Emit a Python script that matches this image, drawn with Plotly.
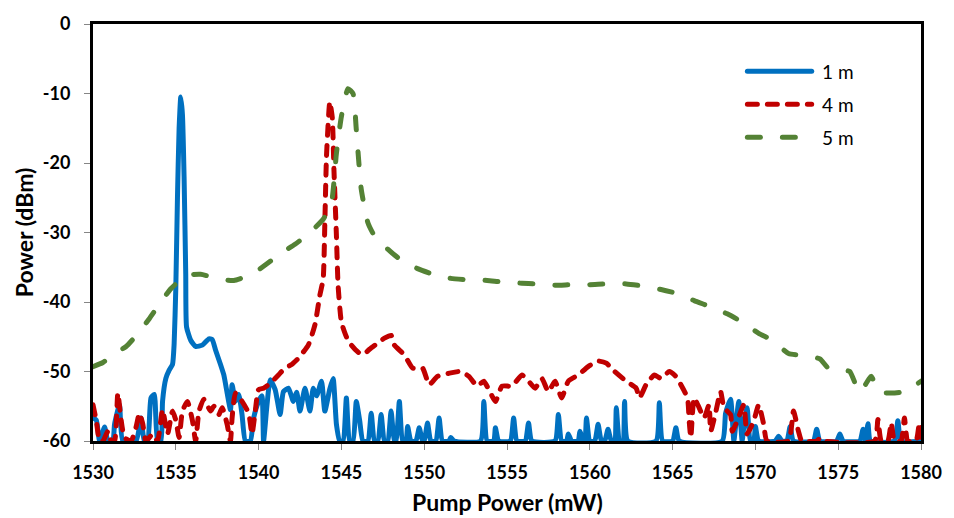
import plotly.graph_objects as go

# ---------------- data ----------------
wl_1m = [1530.0, 1530.2, 1530.4, 1530.7, 1530.9, 1531.2, 1531.3, 1531.6, 1531.8, 1532.6,
         1532.9, 1533.1, 1533.3, 1533.5, 1533.7, 1533.9, 1534.1, 1534.2, 1534.4, 1534.6,
         1534.8, 1534.9, 1535.0, 1535.1, 1535.2, 1535.3, 1535.4, 1535.5, 1535.6, 1535.65,
         1535.9, 1536.2, 1536.6, 1537.0, 1537.2, 1537.4, 1537.7, 1537.9, 1538.1, 1538.3,
         1538.4, 1538.6, 1538.8, 1539.0, 1539.2, 1539.5, 1539.7, 1540.0, 1540.2, 1540.3,
         1540.5, 1540.7, 1541.0, 1541.3, 1541.5, 1541.8, 1542.1, 1542.3, 1542.5, 1542.8,
         1543.1, 1543.3, 1543.5, 1543.8, 1544.0, 1544.3, 1544.5, 1544.7, 1544.9, 1545.1,
         1545.3, 1545.5, 1545.7, 1545.9, 1546.1, 1546.3, 1546.6, 1546.8, 1547.0, 1547.2,
         1547.4, 1547.6, 1547.8, 1548.0, 1548.2, 1548.3, 1548.5, 1548.7, 1548.9, 1549.0,
         1549.2, 1549.5, 1549.7, 1549.9, 1550.0, 1550.2, 1550.4, 1550.7, 1550.9, 1551.1,
         1551.5, 1551.6, 1551.8, 1553.4, 1553.6, 1553.8, 1554.2, 1554.3, 1554.5, 1555.2,
         1555.4, 1555.6, 1556.1, 1556.3, 1556.5, 1557.9, 1558.1, 1558.3, 1558.6, 1558.7,
         1558.9, 1559.3, 1559.4, 1559.6, 1559.7, 1559.8, 1560.0, 1560.3, 1560.5, 1560.7,
         1560.9, 1561.1, 1561.3, 1561.5, 1561.6, 1561.8, 1562.0, 1562.1, 1562.3, 1564.0,
         1564.2, 1564.4, 1565.0, 1565.2, 1565.4, 1568.0, 1568.2, 1568.5, 1568.7, 1568.8,
         1569.0, 1569.2, 1569.3, 1569.5, 1569.7, 1569.9, 1570.0, 1570.2, 1571.2, 1571.4,
         1571.6, 1571.9, 1572.1, 1572.3, 1573.5, 1573.7, 1573.9, 1574.9, 1575.1, 1575.3,
         1576.3, 1576.5, 1576.65, 1576.8, 1576.95, 1578.4, 1578.6, 1578.8, 1580.0]
pw_1m = [-56.7, -57.0, -60.0, -58.0, -60.0, -60.0, -57.6, -54.8, -60.0, -60.0,
         -56.7, -60.0, -60.0, -53.8, -53.3, -60.0, -60.0, -54.3, -51.0, -49.8,
         -49.0, -46.0, -38.0, -25.0, -15.0, -10.5, -13.0, -22.0, -36.0, -43.6,
         -45.5, -46.4, -46.2, -45.3, -45.4, -46.9, -49.0, -50.5, -53.1, -55.5,
         -51.9, -54.3, -53.3, -56.2, -60.0, -60.0, -56.7, -54.3, -53.5, -60.0,
         -55.0, -51.2, -52.6, -56.2, -52.9, -52.4, -54.3, -53.0, -55.7, -52.4,
         -55.7, -52.4, -53.5, -51.4, -55.7, -52.5, -51.0, -57.6, -60.0, -60.0,
         -53.8, -60.0, -60.0, -54.3, -57.0, -60.0, -60.0, -56.0, -60.0, -60.0,
         -56.2, -60.0, -60.0, -55.7, -60.0, -60.0, -54.3, -60.0, -60.0, -57.9,
         -60.0, -60.0, -58.1, -60.0, -60.0, -57.4, -60.0, -60.0, -56.7, -60.0,
         -60.0, -59.5, -60.0, -60.0, -54.3, -60.0, -60.0, -58.1, -60.0, -60.0,
         -56.7, -60.0, -60.0, -57.4, -60.0, -60.0, -56.2, -60.0, -60.0, -59.0,
         -60.0, -60.0, -58.6, -60.0, -60.0, -56.7, -60.0, -60.0, -57.6, -60.0,
         -60.0, -58.3, -60.0, -60.0, -55.2, -60.0, -60.0, -54.3, -60.0, -60.0,
         -54.5, -60.0, -60.0, -58.1, -60.0, -60.0, -56.0, -54.0, -60.0, -58.0,
         -54.3, -60.0, -58.0, -55.2, -60.0, -60.0, -57.9, -60.0, -60.0, -59.3,
         -60.0, -60.0, -57.9, -60.0, -60.0, -58.3, -60.0, -60.0, -59.0, -60.0,
         -60.0, -58.3, -60.0, -57.5, -60.0, -60.0, -57.1, -60.0, -60.0]

wl_4m = [1530.0, 1530.2, 1530.4, 1530.6, 1530.9, 1531.1, 1531.3, 1531.5, 1531.7, 1531.9,
         1532.3, 1532.6, 1532.8, 1533.0, 1533.2, 1533.6, 1533.9, 1534.2, 1534.5, 1534.8,
         1535.0, 1535.2, 1535.4, 1535.7, 1536.0, 1536.2, 1536.4, 1536.7, 1537.1, 1537.3,
         1537.6, 1537.8, 1538.1, 1538.3, 1538.4, 1538.6, 1539.0, 1539.4, 1539.6, 1539.8,
         1540.0, 1540.3, 1540.7, 1541.2, 1541.6, 1542.0, 1542.4, 1543.0, 1543.4, 1543.7,
         1543.9, 1544.0, 1544.1, 1544.3, 1544.45, 1544.55, 1544.7, 1544.8, 1545.0, 1545.3,
         1545.6, 1546.0, 1546.3, 1546.7, 1547.2, 1547.6, 1548.0, 1548.2, 1548.8, 1549.3,
         1549.9, 1550.3, 1550.8, 1551.6, 1552.2, 1552.7, 1553.2, 1553.6, 1553.9, 1554.3,
         1554.7, 1555.3, 1555.9, 1556.3, 1556.7, 1557.1, 1557.5, 1557.9, 1558.3, 1558.7,
         1559.3, 1559.9, 1560.5, 1561.0, 1561.5, 1562.2, 1562.8, 1563.0, 1563.4, 1563.9,
         1564.3, 1564.8, 1565.2, 1565.5, 1565.9, 1566.0, 1566.1, 1566.3, 1566.6, 1566.9,
         1567.2, 1567.3, 1567.6, 1567.9, 1568.1, 1568.5, 1568.6, 1568.9, 1569.3, 1569.5,
         1569.9, 1570.2, 1570.5, 1570.7, 1572.0, 1572.3, 1572.6, 1572.8, 1573.7, 1573.9,
         1574.1, 1577.2, 1577.4, 1577.6, 1578.0, 1578.2, 1578.4, 1578.8, 1579.0, 1579.2,
         1579.7, 1579.9, 1580.0]
pw_4m = [-54.8, -57.1, -60.0, -60.0, -58.6, -60.0, -60.0, -53.1, -57.0, -59.5,
         -60.0, -58.0, -56.0, -57.5, -60.0, -59.0, -60.0, -55.5, -59.0, -55.7,
         -57.0, -59.5, -55.7, -54.3, -57.0, -60.0, -55.7, -54.0, -55.7, -55.0,
         -56.2, -55.2, -57.6, -60.0, -56.7, -53.1, -54.3, -56.0, -59.0, -55.7,
         -52.6, -52.4, -51.7, -50.5, -49.5, -49.0, -48.1, -46.2, -43.3, -39.0,
         -36.7, -28.6, -19.0, -11.2, -13.5, -21.0, -30.5, -37.6, -42.9, -45.0,
         -46.2, -47.2, -47.6, -46.8, -45.9, -45.2, -44.8, -46.2, -47.6, -49.5,
         -49.5, -51.9, -50.7, -50.2, -50.0, -50.7, -52.1, -51.4, -52.6, -54.3,
         -52.1, -52.1, -50.5, -51.4, -52.4, -51.0, -52.9, -51.4, -53.8, -51.4,
         -50.5, -49.3, -48.5, -48.8, -50.0, -51.4, -52.4, -53.8, -51.9, -50.5,
         -51.0, -50.0, -50.7, -51.9, -53.8, -57.1, -59.5, -53.8, -55.2, -56.7,
         -54.8, -58.6, -55.9, -52.9, -55.2, -56.2, -58.6, -57.1, -54.8, -59.0,
         -57.1, -54.8, -57.6, -60.0, -60.0, -55.7, -58.6, -60.0, -60.0, -59.6,
         -60.0, -60.0, -56.9, -60.0, -60.0, -57.4, -60.0, -60.0, -56.7, -60.0,
         -60.0, -57.4, -60.0]

wl_5m = [1530.0, 1530.6, 1531.3, 1532.0, 1532.8, 1533.4, 1534.1, 1534.7, 1535.6, 1536.5,
         1537.6, 1538.5, 1539.6, 1540.5, 1541.4, 1542.2, 1543.1, 1543.9, 1544.4, 1544.7,
         1545.0, 1545.4, 1545.7, 1545.9, 1546.2, 1546.6, 1547.0, 1547.8, 1548.4, 1549.6,
         1550.4, 1551.6, 1552.6, 1553.8, 1554.6, 1555.9, 1556.7, 1557.9, 1558.9, 1560.0,
         1561.0, 1562.2, 1563.2, 1564.3, 1565.3, 1566.3, 1567.3, 1568.3, 1569.2, 1570.2,
         1571.0, 1572.0, 1572.9, 1573.9, 1574.4, 1575.3, 1575.7, 1576.3, 1577.0, 1577.4,
         1578.2, 1579.0, 1580.0]
pw_5m = [-49.3, -48.7, -47.4, -46.4, -44.3, -42.4, -40.0, -38.1, -36.2, -36.0,
         -36.7, -36.9, -36.0, -34.5, -32.9, -31.7, -30.0, -28.1, -25.7, -18.6,
         -13.3, -9.3, -10.0, -15.2, -23.8, -28.6, -30.5, -32.4, -33.6, -35.2,
         -35.9, -36.6, -36.8, -36.9, -37.1, -37.3, -37.4, -37.6, -37.5, -37.5,
         -37.4, -37.4, -37.7, -38.2, -38.8, -39.8, -40.7, -41.7, -42.9, -44.5,
         -45.5, -47.4, -47.7, -48.2, -49.5, -49.8, -50.0, -53.0, -50.7, -52.9,
         -53.1, -52.9, -51.4]

series_names = ["1 m", "4 m", "5 m"]
series_colors = ["#0070C0", "#C00000", "#548235"]

x_tick_vals = [1530, 1535, 1540, 1545, 1550, 1555, 1560, 1565, 1570, 1575, 1580]
y_tick_vals = [0, -10, -20, -30, -40, -50, -60]
y_tick_text = ["0", "-10", "-20", "-30", "-40", "-50", "-60"]

# ---------------- figure ----------------
FONT = "Lato"
dashes = ["solid", "10px,10px", "13px,22px"]
widths = [5, 5, 5]
fig = go.Figure()
for wl, pw, nm, col, ds, w in zip([wl_1m, wl_4m, wl_5m], [pw_1m, pw_4m, pw_5m],
                                  series_names, series_colors, dashes, widths):
    fig.add_trace(go.Scatter(x=wl, y=pw, mode="lines", name=nm, showlegend=False,
                             line=dict(color=col, width=w, dash=ds, shape="spline",
                                       smoothing=0.5)))

# manual legend (longer samples, like the reference)
leg_y = [0.8867, 0.8076, 0.7285]
for yy, nm, col, ds, w in zip(leg_y, series_names, series_colors, dashes, widths):
    fig.add_shape(type="line", xref="paper", yref="paper", x0=0.7903, x1=0.8680,
                  y0=yy, y1=yy, line=dict(color=col, width=w, dash=ds))
    fig.add_annotation(xref="paper", yref="paper", x=0.8781, y=yy, text=nm,
                       showarrow=False, xanchor="left", yanchor="middle",
                       font=dict(family=FONT, size=19, color="#000000"))

# axis titles
fig.add_annotation(xref="paper", yref="paper", x=0.5, y=-0.147, text="<b>Pump Power (mW)</b>",
                   showarrow=False, xanchor="center", yanchor="middle",
                   font=dict(family=FONT, size=23, color="#000000"))
fig.add_annotation(xref="paper", yref="paper", x=-0.0836, y=0.5, text="<b>Power (dBm)</b>",
                   showarrow=False, xanchor="center", yanchor="middle", textangle=-90,
                   font=dict(family=FONT, size=23, color="#000000"))

fig.update_layout(
    width=954, height=518,
    margin=dict(l=93, r=24, t=20, b=77),
    paper_bgcolor="white", plot_bgcolor="white",
    font=dict(family=FONT, color="#000000"),
    showlegend=False,
)
fig.update_xaxes(range=[1530, 1580], tickvals=x_tick_vals, showgrid=False, zeroline=False,
                 showline=True, linecolor="#000000", linewidth=3, mirror=True,
                 ticks="outside", ticklen=6, tickcolor="#868686", tickwidth=1,
                 ticklabelstandoff=7,
                 tickfont=dict(family=FONT, size=18, color="#000000", weight="bold"))
fig.update_yaxes(range=[-60, 0], tickvals=y_tick_vals, ticktext=y_tick_text, showgrid=False,
                 zeroline=False, showline=True, linecolor="#000000", linewidth=3, mirror=True,
                 ticks="outside", ticklen=6, tickcolor="#868686", tickwidth=1,
                 ticklabelstandoff=10,
                 tickfont=dict(family=FONT, size=18, color="#000000", weight="bold"))

post = ("document.querySelectorAll('.js-line, .shapelayer path').forEach(function(p){"
        "p.style.strokeLinecap='round'; p.style.strokeLinejoin='round';});")
fig.write_html("out.html", post_script=post)
